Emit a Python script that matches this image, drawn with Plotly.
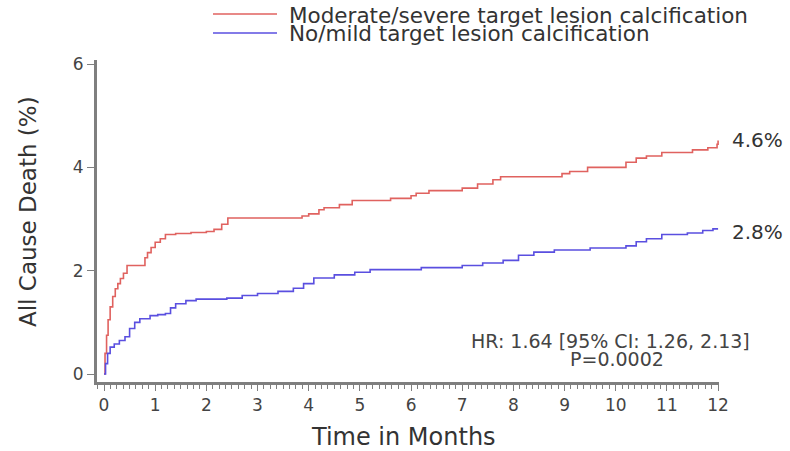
import plotly.graph_objects as go

# Kaplan-Meier style cumulative incidence (%)
red_t = [0, 0.02, 0.05, 0.08, 0.12, 0.17, 0.22, 0.27, 0.32, 0.38, 0.45, 0.76, 0.80, 0.85, 0.92,
         1.0, 1.1, 1.2, 1.4, 1.7, 2.0, 2.15, 2.3, 2.42, 3.87, 4.0, 4.2, 4.3, 4.6, 4.85, 5.6,
         6.0, 6.1, 6.35, 7.0, 7.3, 7.6, 7.75, 8.95, 9.1, 9.45, 10.2, 10.4, 10.6, 10.9, 11.5,
         11.8, 11.98, 12.0]
red_v = [0, 0.4, 0.75, 1.05, 1.3, 1.5, 1.65, 1.75, 1.85, 1.95, 2.1, 2.1, 2.25, 2.35, 2.45,
         2.55, 2.62, 2.7, 2.72, 2.74, 2.76, 2.8, 2.9, 3.02, 3.06, 3.1, 3.18, 3.22, 3.28, 3.36, 3.4,
         3.45, 3.5, 3.55, 3.6, 3.68, 3.76, 3.82, 3.88, 3.92, 4.0, 4.1, 4.18, 4.22, 4.29, 4.34,
         4.38, 4.45, 4.52]

blue_t = [0, 0.03, 0.07, 0.12, 0.2, 0.3, 0.41, 0.5, 0.6, 0.7, 0.9, 1.05, 1.2, 1.3, 1.4, 1.6,
          1.8, 2.4, 2.7, 3.0, 3.4, 3.7, 3.9, 4.1, 4.5, 4.9, 5.2, 6.2, 7.0, 7.4, 7.8, 8.1, 8.4,
          8.8, 9.5, 10.2, 10.4, 10.6, 10.9, 11.4, 11.7, 11.9, 12.0]
blue_v = [0, 0.2, 0.4, 0.52, 0.58, 0.65, 0.72, 0.88, 1.0, 1.07, 1.13, 1.15, 1.17, 1.28, 1.36, 1.42,
          1.45, 1.47, 1.52, 1.56, 1.6, 1.66, 1.75, 1.86, 1.92, 1.97, 2.02, 2.06, 2.1, 2.15, 2.2, 2.3, 2.36,
          2.4, 2.44, 2.48, 2.56, 2.62, 2.7, 2.73, 2.78, 2.81, 2.81]

series_names = ["Moderate/severe target lesion calcification", "No/mild target lesion calcification"]
end_labels = ["4.6%", "2.8%"]
x_ticks = list(range(0, 13))
y_ticks = [0, 2, 4, 6]
hr_text = "HR: 1.64 [95% CI: 1.26, 2.13]"
p_text = "P=0.0002"

RED = "#E0625F"
BLUE = "#5A4FE0"
AX = "#7f7f7f"
FONT = "DejaVu Sans"

# plot area in page pixels (body margin removed below)
L, R, T, B = 97, 719, 60, 382
W, H = 790, 451


def px(x):
    return (x - L) / (R - L)


def py(y):
    return (B - y) / (B - T)


fig = go.Figure()
fig.add_trace(go.Scatter(x=red_t, y=red_v, mode="lines", line=dict(color=RED, width=1.6, shape="hv"),
                         name=series_names[0], showlegend=False))
fig.add_trace(go.Scatter(x=blue_t, y=blue_v, mode="lines", line=dict(color=BLUE, width=1.6, shape="hv"),
                         name=series_names[1], showlegend=False))

fig.update_layout(
    width=W, height=H,
    margin=dict(l=L, r=W - R, t=T, b=H - B),
    paper_bgcolor="white", plot_bgcolor="white",
    font=dict(family=FONT, color="#444"),
)
fig.update_xaxes(range=[-0.137, 12.018], tickvals=x_ticks, ticktext=[str(v) for v in x_ticks],
                 showline=True, linecolor=AX, linewidth=3, ticks="outside", ticklen=6, tickwidth=1,
                 tickcolor=AX, showgrid=False, zeroline=False, tickfont=dict(size=17, color="#444"),
                 minor=dict(tick0=0, dtick=0.125, ticks="outside", ticklen=4, tickcolor=AX, tickwidth=1, showgrid=False))
fig.update_yaxes(range=[-0.155, 6.08], tickvals=y_ticks, ticktext=[str(v) for v in y_ticks],
                 showline=True, linecolor=AX, linewidth=3, ticks="outside", ticklen=7, tickwidth=1,
                 tickcolor=AX, showgrid=False, zeroline=False, tickfont=dict(size=17, color="#444"))

# axis titles
fig.add_annotation(text="Time in Months", xref="paper", yref="paper", x=px(403), y=py(437),
                   showarrow=False, font=dict(size=24, color="#333"), xanchor="center", yanchor="middle")
fig.add_annotation(text="All Cause Death (%)", xref="paper", yref="paper", x=px(28), y=py(212),
                   showarrow=False, textangle=-90, font=dict(size=23, color="#333"), xanchor="center", yanchor="middle")

# legend (drawn manually to match the long line samples)
for i, (col, ly) in enumerate([(RED, 15), (BLUE, 34)]):
    fig.add_shape(type="line", xref="paper", yref="paper", x0=px(213), x1=px(277),
                  y0=py(ly - 1), y1=py(ly - 1), line=dict(color=col, width=1.6))
    fig.add_annotation(text=series_names[i], xref="paper", yref="paper", x=px(287), y=py(ly),
                       showarrow=False, xanchor="left", yanchor="middle", font=dict(size=21.5, color="#333"))

# end labels
fig.add_annotation(text=end_labels[0], x=red_t[-1], y=red_v[-1], xanchor="left", yanchor="middle",
                   xshift=12, yshift=1, showarrow=False, font=dict(size=20, color="#333"))
fig.add_annotation(text=end_labels[1], x=blue_t[-1], y=blue_v[-1], xanchor="left", yanchor="middle",
                   xshift=12, yshift=-3, showarrow=False, font=dict(size=20, color="#333"))

# statistics
fig.add_annotation(text=hr_text, xref="paper", yref="paper", x=px(610), y=py(341),
                   showarrow=False, xanchor="center", yanchor="middle", font=dict(size=19, color="#444"))
fig.add_annotation(text=p_text, xref="paper", yref="paper", x=px(617), y=py(359),
                   showarrow=False, xanchor="center", yanchor="middle", font=dict(size=19, color="#444"))

fig.write_html("out.html", config={"displayModeBar": False},
               post_script="document.body.style.margin='0';document.body.style.overflow='hidden';")
